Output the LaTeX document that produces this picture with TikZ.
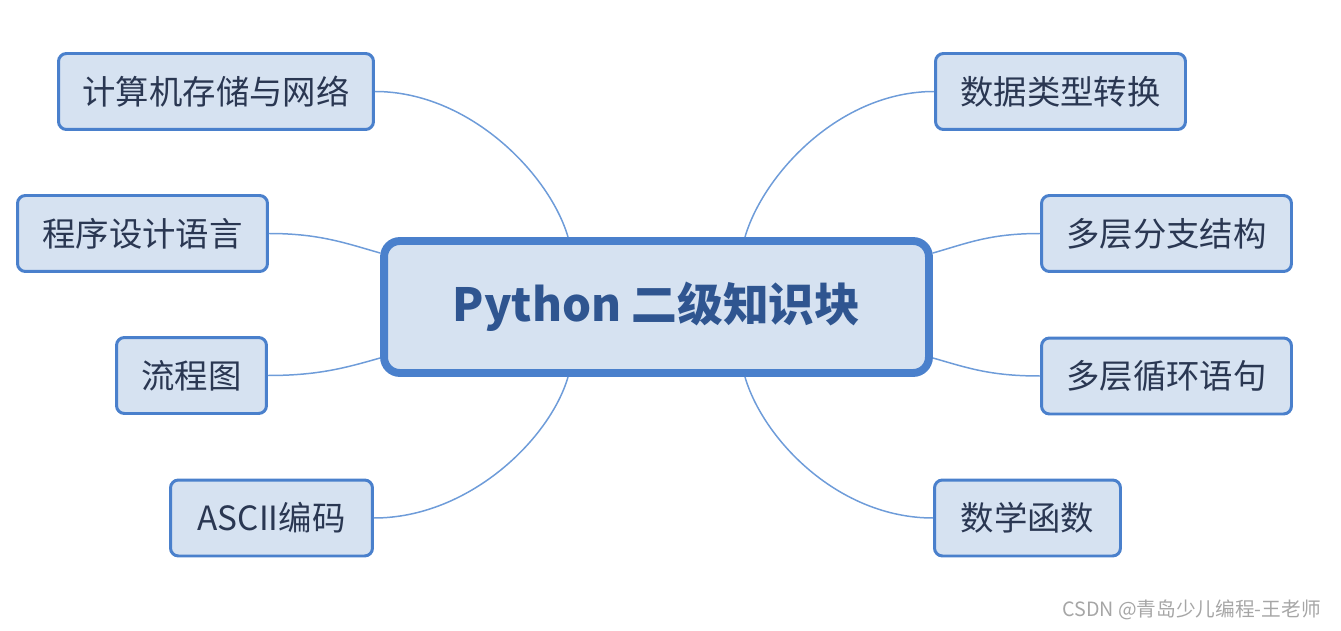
\documentclass[tikz,border=0pt]{standalone}
\usepackage{fontspec}
\setmainfont{Noto Sans CJK SC}
\usepackage{tikz}
\usepackage{xcolor}
\usetikzlibrary{positioning,calc}

\definecolor{mmblue}{HTML}{4A80CC}
\definecolor{mmfill}{HTML}{D6E2F1}
\definecolor{mmline}{HTML}{6E9CD9}
\definecolor{mmtext}{HTML}{2A3752}
\definecolor{hubtext}{HTML}{2F5590}

\begin{document}
\begin{tikzpicture}[
  x=0.02cm, y=-0.02cm,
  topic/.style={draw=mmblue, line width=1.7pt, fill=mmfill, rounded corners=4.5pt, text=mmtext, inner sep=0pt, minimum height=1.52cm, font=\fontsize{19}{22}\selectfont},
  hubbox/.style={draw=mmblue, line width=4.5pt, fill=mmfill, rounded corners=9pt, text=hubtext, inner sep=0pt, minimum width=10.9cm, minimum height=2.64cm, font=\fontsize{26}{30}\selectfont\bfseries},
  link/.style={draw=mmline, line width=0.85pt}
]
\useasboundingbox (0,0) rectangle (1341,631);

\node[hubbox] (hub) at (656.5,307) {Python 二级知识块};

% left side
\node[topic, minimum width=6.3cm] (lcomp) at (216,91.5) {计算机存储与网络};
\node[topic, minimum width=5cm] (llang) at (142.5,233.5) {程序设计语言};
\node[topic, minimum width=3cm] (lflow) at (191.5,375.5) {流程图};
\node[topic, minimum width=4.04cm] (lascii) at (271.5,518) {ASCII编码};

% right side
\node[topic, minimum width=5cm] (rconv) at (1060.5,91.5) {数据类型转换};
\node[topic, minimum width=5cm] (rbranch) at (1166.5,233.5) {多层分支结构};
\node[topic, minimum width=5cm] (rloop) at (1166.5,376) {多层循环语句};
\node[topic, minimum width=3.72cm] (rmath) at (1027.5,518) {数学函数};

\draw[link] (lcomp.east) .. controls +(95,0) and +(-18,-62) .. ([xshift=-1.77cm]hub.north);
\draw[link] (llang.east) .. controls +(50,0) and +(-35,-10) .. ([yshift=1.08cm]hub.west);
\draw[link] (lflow.east) .. controls +(50,0) and +(-35,10) .. ([yshift=-1.02cm]hub.west);
\draw[link] (lascii.east) .. controls +(95,0) and +(-18,62) .. ([xshift=-1.77cm]hub.south);

\draw[link] (rconv.west) .. controls +(-95,0) and +(18,-62) .. ([xshift=1.77cm]hub.north);
\draw[link] (rbranch.west) .. controls +(-50,0) and +(35,-10) .. ([yshift=1.08cm]hub.east);
\draw[link] (rloop.west) .. controls +(-50,0) and +(35,10) .. ([yshift=-1.02cm]hub.east);
\draw[link] (rmath.west) .. controls +(-95,0) and +(18,62) .. ([xshift=1.77cm]hub.south);

\node[text=gray!70, font=\fontsize{11.2}{13}\selectfont, anchor=east] (mark) at (1327,610) {CSDN @青岛少儿编程-王老师};
\end{tikzpicture}
\end{document}
